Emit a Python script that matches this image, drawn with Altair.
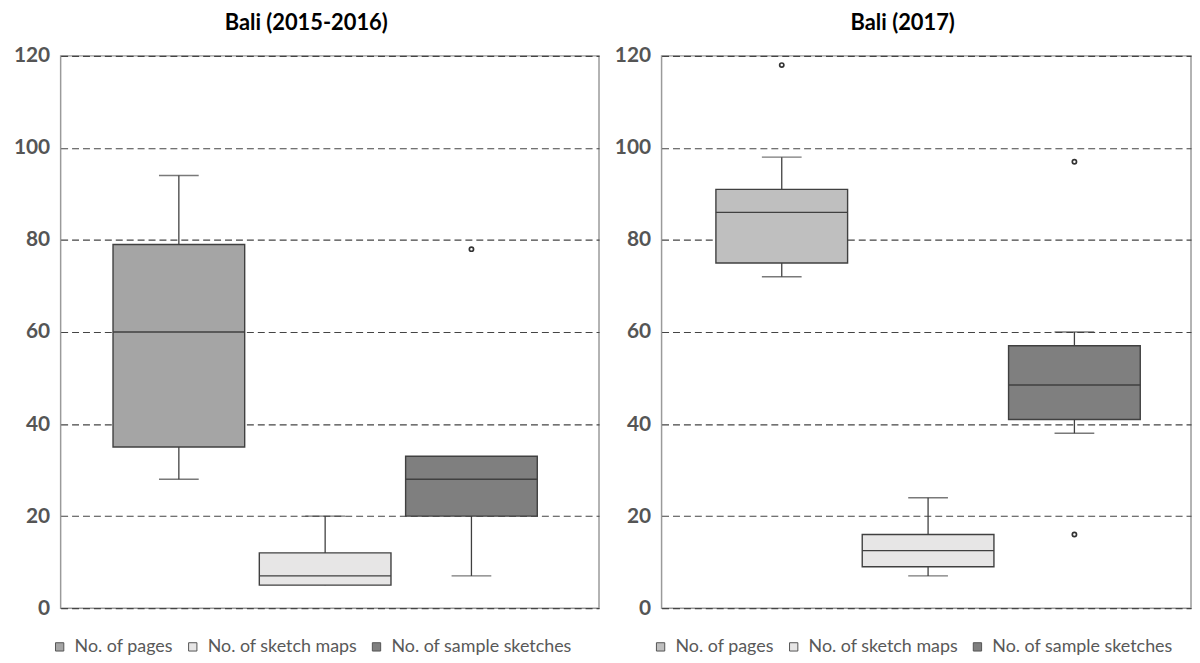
import altair as alt
import pandas as pd

categories = ["No. of pages", "No. of sketch maps", "No. of sample sketches"]
panel_titles = ["Bali (2015-2016)", "Bali (2017)"]

# Bali (2015-2016)
a_low = [28, 5, 7]
a_q1 = [35, 5, 20]
a_median = [60, 7, 28]
a_q3 = [79, 12, 33]
a_high = [94, 20, 33]
a_out_cat = ["No. of sample sketches"]
a_out_val = [78]
a_colors = ["#a5a5a5", "#e7e6e6", "#7f7f7f"]

# Bali (2017)
b_low = [72, 7, 38]
b_q1 = [75, 9, 41]
b_median = [86, 12.5, 48.5]
b_q3 = [91, 16, 57]
b_high = [98, 24, 60]
b_out_cat = ["No. of pages", "No. of sample sketches", "No. of sample sketches"]
b_out_val = [118, 97, 16]
b_colors = ["#bfbfbf", "#e7e6e6", "#7f7f7f"]

y_ticks = [0, 20, 40, 60, 80, 100, 120]
FONT = "Lato"
DARK = "#404040"


def panel(title, low, q1, med, q3, high, out_cat, out_val, colors, width, pad_outer, align):
    stats = pd.DataFrame({"cat": categories, "low": low, "q1": q1, "med": med, "q3": q3, "high": high})
    caps_rows = []
    for c, lo, a, b, hi in zip(categories, low, q1, q3, high):
        if lo < a:
            caps_rows.append({"cat": c, "v": lo})
        if hi > b:
            caps_rows.append({"cat": c, "v": hi})
    caps = pd.DataFrame(caps_rows)
    outs = pd.DataFrame({"cat": out_cat, "v": out_val})

    xs = alt.Scale(domain=categories, paddingInner=0.1, paddingOuter=pad_outer, align=align)
    ys = alt.Scale(domain=[0, 120], nice=False)
    X = alt.X("cat:N", sort=categories, scale=xs, axis=None)

    whisk = alt.Chart(stats).mark_rule(color=DARK, strokeWidth=1.3).encode(
        x=X,
        y=alt.Y("low:Q", scale=ys, axis=alt.Axis(
            values=y_ticks, grid=True, gridDash=[7, 4], gridColor="#444444", gridWidth=1.2,
            ticks=False, domain=False, title=None, labelFont=FONT, labelFontSize=21,
            labelFontWeight="bold", labelColor="#555555", labelPadding=11)),
        y2="high:Q",
    )
    box = alt.Chart(stats).mark_bar(stroke=DARK, strokeWidth=1.4, opacity=1).encode(
        x=X,
        y=alt.Y("q1:Q", scale=ys),
        y2="q3:Q",
        color=alt.Color("cat:N", sort=categories,
                        scale=alt.Scale(domain=categories, range=colors),
                        legend=alt.Legend(
                            title=None, orient="none", legendX=-10, legendY=586,
                            direction="horizontal", symbolType="square", symbolSize=70,
                            symbolStrokeColor="#555555", symbolStrokeWidth=1, symbolOpacity=1,
                            labelFont=FONT, labelFontSize=18, labelColor="#595959",
                            labelLimit=0, labelOffset=6, columnPadding=10)),
    )
    median = alt.Chart(stats).mark_bar(stroke=DARK, strokeWidth=1.4, fill="transparent").encode(
        x=X, y=alt.Y("med:Q", scale=ys), y2="med:Q"
    )
    cap = alt.Chart(caps).mark_tick(color=DARK, size=40, thickness=1.4).encode(
        x=X, y=alt.Y("v:Q", scale=ys)
    )
    pts = alt.Chart(outs).mark_point(shape="circle", filled=False, size=18, color="#333333",
                                     strokeWidth=1.7, opacity=1).encode(
        x=X, y=alt.Y("v:Q", scale=ys)
    )
    return alt.layer(whisk, box, median, cap, pts).properties(
        width=width, height=556,
        title=alt.TitleParams(title, font=FONT, fontSize=22, fontWeight="bold",
                              color="#000000", offset=10, frame="bounds"),
    )


left = panel(panel_titles[0], a_low, a_q1, a_median, a_q3, a_high, a_out_cat, a_out_val,
             a_colors, 542, 0.39, 0.459)
right = panel(panel_titles[1], b_low, b_q1, b_median, b_q3, b_high, b_out_cat, b_out_val,
              b_colors, 533, 0.359, 0.517)

chart = alt.hconcat(left, right, spacing=13).resolve_scale(
    x="independent", y="independent", color="independent"
).properties(
    padding={"left": 4, "top": 1, "right": 0, "bottom": 0},
    background="white",
).configure_view(
    stroke="#9a9a9a", strokeWidth=1.5
)

chart.save("out.html", embed_options={"renderer": "svg", "actions": False})
